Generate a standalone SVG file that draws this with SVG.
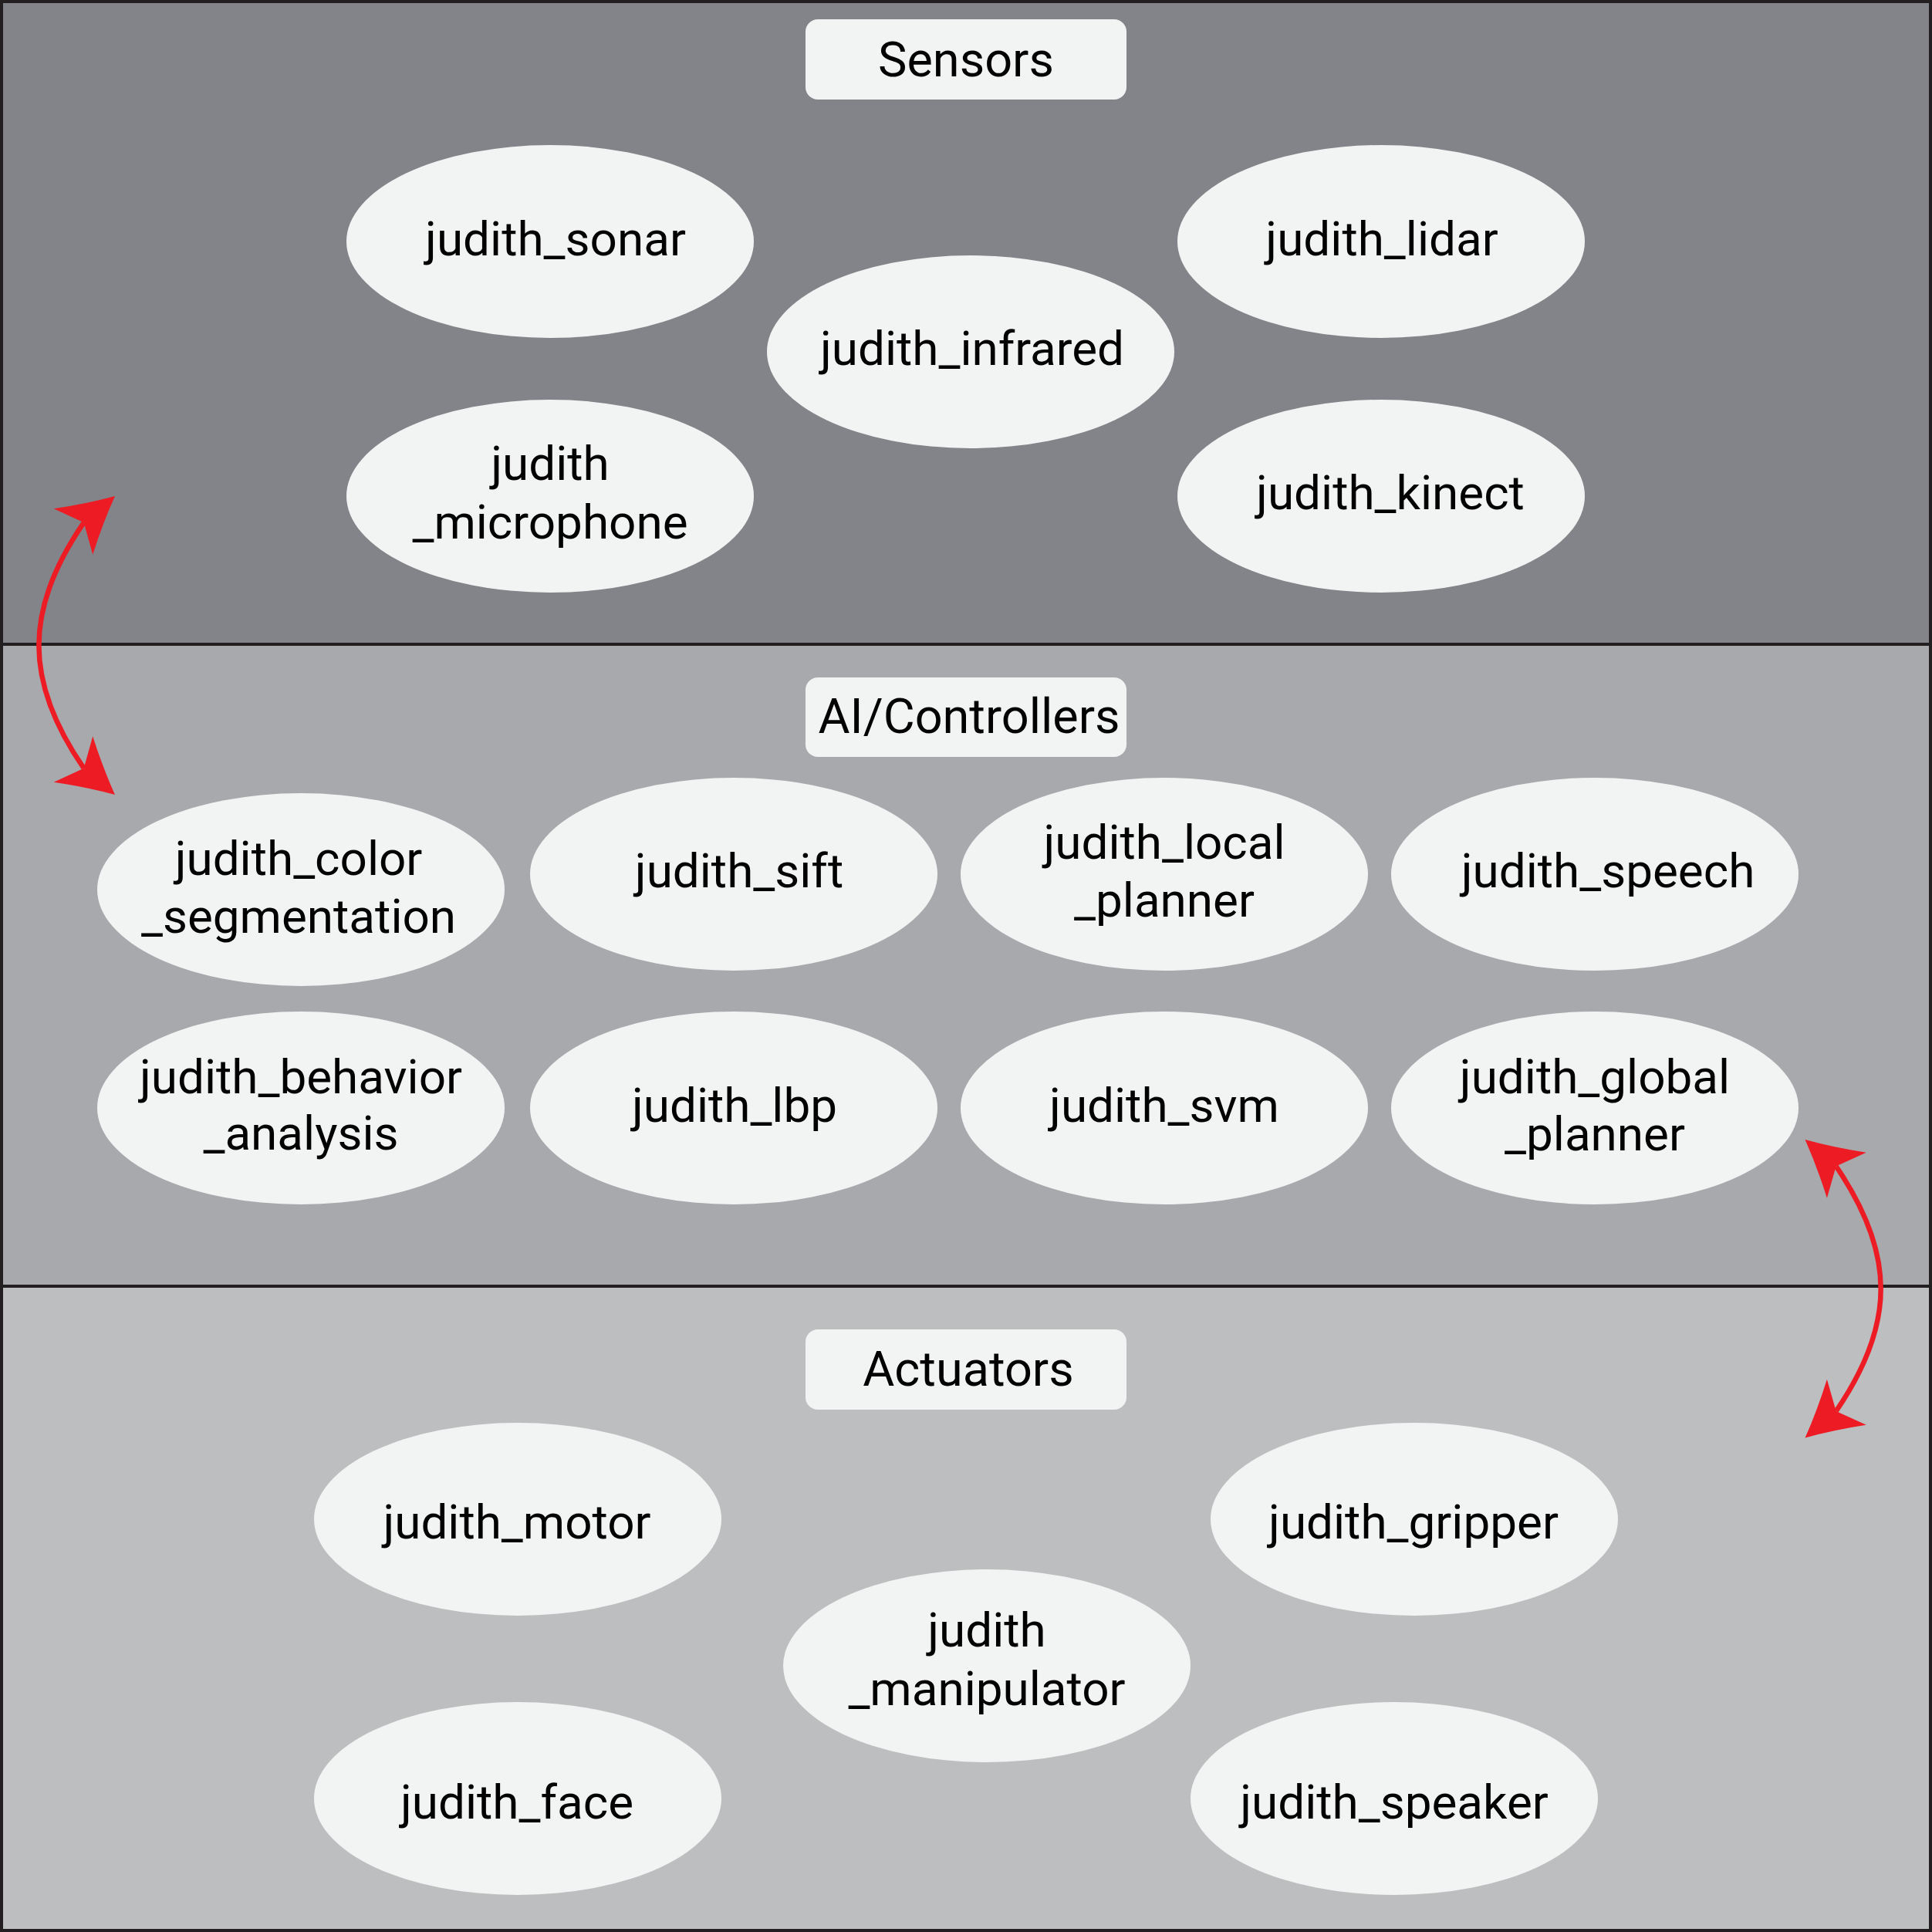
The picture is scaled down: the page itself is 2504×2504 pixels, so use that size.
<svg xmlns="http://www.w3.org/2000/svg" xmlns:xlink="http://www.w3.org/1999/xlink" width="2504" height="2504" viewBox="0 0 2504 2504">
<style>
.node ellipse{fill:#f2f4f3}
.lbl rect{fill:#f2f4f3}
text{font-family:Roboto,"Liberation Sans",sans-serif;font-size:62px;fill:#000;text-anchor:middle}
.lbl text{font-size:63px}
.div{stroke:#231f20;stroke-width:4;fill:none}
.edge{fill:none;stroke:#ed1c24;stroke-width:6.5}
.head{fill:#ed1c24}
</style>
<defs>
<path id="ah" class="head" d="M0,0 Q-34,-16 -71,-39 L-53,0 L-71,39 Q-34,16 0,0 Z"/>
</defs>
<g id="bands">
<rect x="0" y="0" width="2504" height="835" fill="#838489"/>
<rect x="0" y="835" width="2504" height="832" fill="#a8a9ad"/>
<rect x="0" y="1667" width="2504" height="837" fill="#bdbec0"/>
<line class="div" x1="0" y1="835" x2="2504" y2="835"/>
<line class="div" x1="0" y1="1667" x2="2504" y2="1667"/>
<rect class="div" x="2" y="2" width="2500" height="2500"/>
</g>
<g id="label-sensors" class="lbl"><rect x="1044" y="25" width="416" height="104" rx="16"/><text x="1252" y="99">Sensors</text></g>
<g id="label-ai" class="lbl"><rect x="1044" y="878" width="416" height="103" rx="16"/><text x="1256" y="950">AI/Controllers</text></g>
<g id="label-actuators" class="lbl"><rect x="1044" y="1723" width="416" height="104" rx="16"/><text x="1255" y="1796">Actuators</text></g>

<g id="judith_sonar" class="node"><ellipse cx="713" cy="313" rx="264" ry="125"/><text x="720" y="331">judith_sonar</text></g>
<g id="judith_infrared" class="node"><ellipse cx="1258" cy="456" rx="264" ry="125"/><text x="1260" y="473">judith_infrared</text></g>
<g id="judith_lidar" class="node"><ellipse cx="1790" cy="313" rx="264" ry="125"/><text x="1791" y="331">judith_lidar</text></g>
<g id="judith_microphone" class="node"><ellipse cx="713" cy="643" rx="264" ry="125"/><text x="713" y="622">judith</text><text x="713" y="698">_microphone</text></g>
<g id="judith_kinect" class="node"><ellipse cx="1790" cy="643" rx="264" ry="125"/><text x="1802" y="660">judith_kinect</text></g>

<g id="judith_color_segmentation" class="node"><ellipse cx="390" cy="1153" rx="264" ry="125"/><text x="387" y="1134">judith_color</text><text x="387" y="1209">_segmentation</text></g>
<g id="judith_sift" class="node"><ellipse cx="951" cy="1133" rx="264" ry="125"/><text x="958" y="1150">judith_sift</text></g>
<g id="judith_local_planner" class="node"><ellipse cx="1509" cy="1133" rx="264" ry="125"/><text x="1509" y="1113">judith_local</text><text x="1509" y="1188">_planner</text></g>
<g id="judith_speech" class="node"><ellipse cx="2067" cy="1133" rx="264" ry="125"/><text x="2084" y="1150">judith_speech</text></g>
<g id="judith_behavior_analysis" class="node"><ellipse cx="390" cy="1436" rx="264" ry="125"/><text x="390" y="1417">judith_behavior</text><text x="390" y="1490">_analysis</text></g>
<g id="judith_lbp" class="node"><ellipse cx="951" cy="1436" rx="264" ry="125"/><text x="952" y="1454">judith_lbp</text></g>
<g id="judith_svm" class="node"><ellipse cx="1509" cy="1436" rx="264" ry="125"/><text x="1509" y="1454">judith_svm</text></g>
<g id="judith_global_planner" class="node"><ellipse cx="2067" cy="1436" rx="264" ry="125"/><text x="2067" y="1417">judith_global</text><text x="2067" y="1491">_planner</text></g>

<g id="judith_motor" class="node"><ellipse cx="671" cy="1969" rx="264" ry="125"/><text x="670" y="1994">judith_motor</text></g>
<g id="judith_gripper" class="node"><ellipse cx="1833" cy="1969" rx="264" ry="125"/><text x="1832" y="1994">judith_gripper</text></g>
<g id="judith_manipulator" class="node"><ellipse cx="1279" cy="2159" rx="264" ry="125"/><text x="1279" y="2134">judith</text><text x="1279" y="2210">_manipulator</text></g>
<g id="judith_face" class="node"><ellipse cx="671" cy="2331" rx="264" ry="125"/><text x="670" y="2357">judith_face</text></g>
<g id="judith_speaker" class="node"><ellipse cx="1807" cy="2331" rx="264" ry="125"/><text x="1807" y="2357">judith_speaker</text></g>

<g id="connectors">
<path class="edge" d="M108.6,677.3 C31,790 31,883 108.6,995.7"/>
<use xlink:href="#ah" transform="translate(149,643) rotate(-40.4)"/>
<use xlink:href="#ah" transform="translate(149,1030) rotate(40.4)"/>
<path class="edge" d="M2379.7,1511.6 C2457,1625 2457,1716 2379.7,1828.9"/>
<use xlink:href="#ah" transform="translate(2339.5,1477) rotate(-139.3)"/>
<use xlink:href="#ah" transform="translate(2339.5,1863.5) rotate(139.3)"/>
</g>
</svg>
